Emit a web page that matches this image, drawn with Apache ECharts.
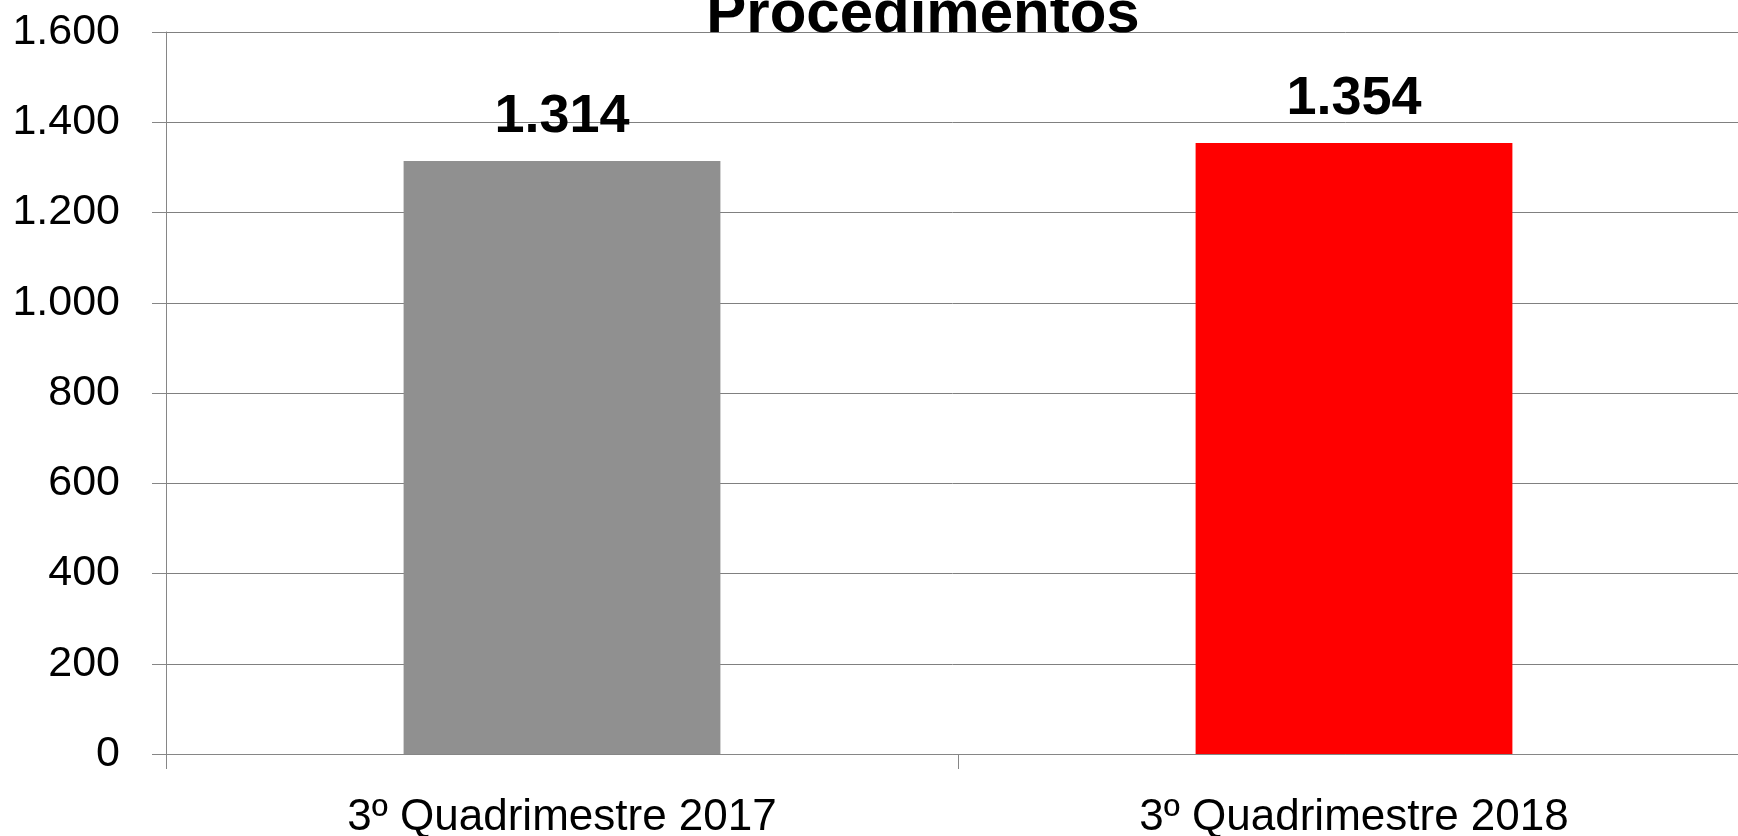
<!DOCTYPE html>
<html>
<head>
<meta charset="utf-8">
<script src="https://cdn.jsdelivr.net/npm/echarts@6/dist/echarts.min.js"></script>
<style>html,body{margin:0;padding:0;background:#fff;}#c{width:1738px;height:836px;}</style>
</head>
<body>
<div id="c"></div>
<script>
const titleText = "Procedimentos";
const categories = ["3º Quadrimestre 2017", "3º Quadrimestre 2018"];
const values = [1314, 1354];
const barColors = ["#909090", "#ff0000"];
const yTicks = { min: 0, max: 1600, interval: 200 };

function fmt(v) {
  return String(v).replace(/\B(?=(\d{3})+(?!\d))/g, ".");
}

const chart = echarts.init(document.getElementById("c"), null, { renderer: "canvas" });
const FONT = "'Liberation Sans', Arial, sans-serif";
chart.setOption({
  animation: false,
  backgroundColor: "#ffffff",
  title: {
    text: titleText,
    left: 918,
    textAlign: "center",
    top: -20,
    textStyle: { fontFamily: FONT, fontSize: 60, fontWeight: "bold", color: "#000" }
  },
  grid: { left: 166, width: 1584, top: 32, height: 722, containLabel: false, outerBoundsMode: "none" },
  xAxis: {
    type: "category",
    data: categories,
    boundaryGap: true,
    axisLine: { lineStyle: { color: "#868686", width: 1 } },
    axisTick: { show: true, length: 15, alignWithLabel: false, lineStyle: { color: "#868686" } },
    axisLabel: { fontFamily: FONT, fontSize: 44, color: "#000", margin: 42 }
  },
  yAxis: {
    type: "value",
    min: yTicks.min, max: yTicks.max, interval: yTicks.interval,
    axisLine: { show: true, lineStyle: { color: "#868686", width: 1 } },
    axisTick: { show: true, length: 14, lineStyle: { color: "#868686" } },
    splitLine: { show: true, lineStyle: { color: "#808080", width: 1 } },
    axisLabel: { fontFamily: FONT, fontSize: 43, color: "#000", margin: 46, formatter: fmt }
  },
  series: [{
    type: "bar",
    barWidth: "40%",
    data: values.map((v, i) => ({ value: v, itemStyle: { color: barColors[i] } })),
    label: {
      show: true,
      position: "top",
      distance: 17,
      fontFamily: FONT,
      fontSize: 54,
      fontWeight: "bold",
      color: "#000",
      formatter: p => fmt(p.value)
    }
  }]
});
</script>
</body>
</html>
